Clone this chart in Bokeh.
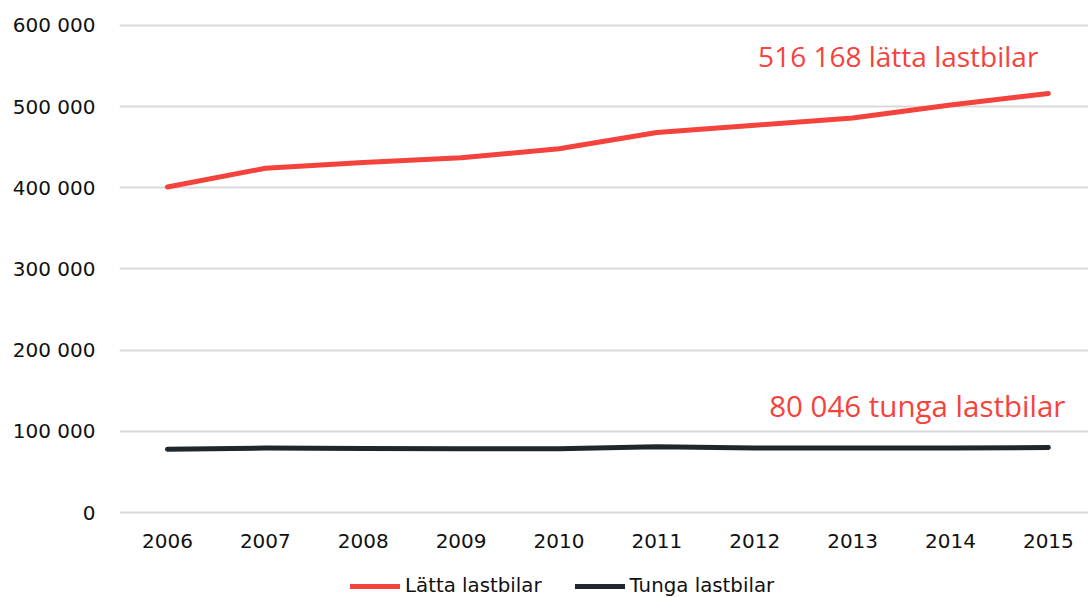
from bokeh.plotting import figure
from bokeh.models import Range1d, FixedTicker, Legend, LegendItem
from bokeh.core.properties import value
from bokeh.embed import file_html
from bokeh.resources import INLINE

years = [2006, 2007, 2008, 2009, 2010, 2011, 2012, 2013, 2014, 2015]
latta = [401000, 424000, 431000, 437000, 448000, 468000, 477000, 486000, 502000, 516168]
tunga = [78000, 79500, 79000, 78500, 78500, 81000, 79500, 79500, 79500, 80046]
y_ticks = [0, 100000, 200000, 300000, 400000, 500000, 600000]
y_tick_labels = ["0", "100 000", "200 000", "300 000", "400 000", "500 000", "600 000"]
x_tick_labels = [str(y) for y in years]
series_names = ["Lätta lastbilar", "Tunga lastbilar"]
annot_texts = ["516 168 lätta lastbilar", "80 046 tunga lastbilar"]

RED = "#f4433c"
DARK = "#1f272d"
FONT = "DejaVu Sans"

p = figure(width=1088, height=597, output_backend="svg", toolbar_location=None,
           x_range=Range1d(2005.51, 2015.41), y_range=Range1d(-104600, 606000),
           min_border_left=119, min_border_right=0, min_border_top=20, min_border_bottom=0)
p.outline_line_color = None
p.background_fill_color = "white"

r1 = p.line(years, latta, line_color=RED, line_width=5, line_cap="round", line_join="round")
r2 = p.line(years, tunga, line_color=DARK, line_width=5, line_cap="round", line_join="round")

p.text(x=[2015], y=[562800], text=[annot_texts[0]], text_align="right", text_baseline="alphabetic",
       text_color=RED, text_font=value("Open Sans"), text_font_size="28px", x_offset=-10)
p.text(x=[2015], y=[131800], text=[annot_texts[1]], text_align="right", text_baseline="alphabetic",
       text_color=RED, text_font=value("Open Sans"), text_font_size="29.5px", x_offset=17)

# x tick labels drawn through the x scale, just below the zero line
p.text(x=years, y=[0] * len(years), text=x_tick_labels, text_align="center", text_baseline="middle",
       y_offset=28, text_color="#111111", text_font=value(FONT), text_font_size="20px")

p.xgrid.grid_line_color = None
p.ygrid.grid_line_color = "#d9d9d9"
p.ygrid.grid_line_width = 2
p.ygrid.ticker = FixedTicker(ticks=y_ticks)

p.xaxis.visible = False
p.yaxis.ticker = FixedTicker(ticks=y_ticks)
p.yaxis.major_label_overrides = {t: l for t, l in zip(y_ticks, y_tick_labels)}
p.yaxis.axis_line_color = None
p.yaxis.major_tick_line_color = None
p.yaxis.minor_tick_line_color = None
p.yaxis.major_label_text_font = FONT
p.yaxis.major_label_text_font_size = "20px"
p.yaxis.major_label_text_color = "#111111"
p.yaxis.major_label_standoff = 18

legend = Legend(items=[LegendItem(label=series_names[0], renderers=[r1]),
                       LegendItem(label=series_names[1], renderers=[r2])],
                location=(231, 0), orientation="horizontal",
                label_text_font=FONT, label_text_font_size="19.8px", label_text_color="#111111",
                glyph_width=50, glyph_height=20, label_standoff=5, spacing=33,
                padding=0, margin=0, border_line_color=None, background_fill_alpha=0)
p.add_layout(legend, "center")

open("out.html", "w").write(file_html(p, INLINE))
